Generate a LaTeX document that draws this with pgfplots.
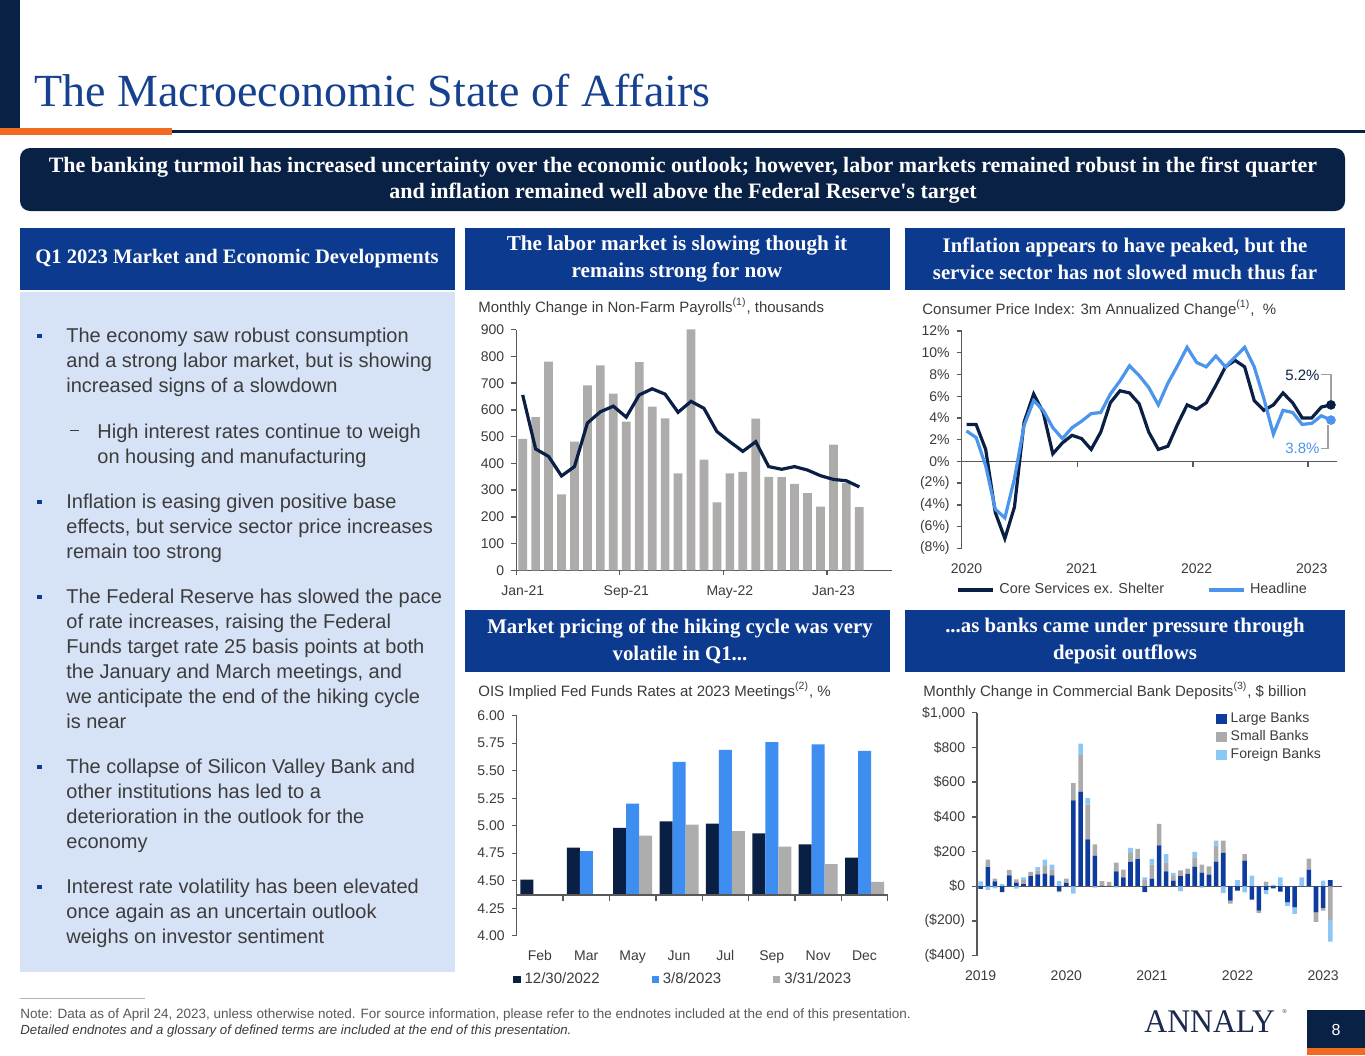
\documentclass[border=0pt]{standalone}
\usepackage{pgfplots}
\pgfplotsset{compat=1.18}
\usepackage{pgfplotstable}
\usepackage{fontspec}
\usepackage{graphicx}
\setmainfont{Liberation Sans}
\newfontfamily\serif{Liberation Serif}
\newcommand{\fsz}[2]{\fontsize{#1pt}{#2pt}\selectfont}
\definecolor{navy}{HTML}{0A2146}
\definecolor{hblue}{HTML}{0C3A8E}
\definecolor{panel}{HTML}{D6E3F6}
\definecolor{orng}{HTML}{F26A21}
\definecolor{titleblue}{HTML}{15418F}
\definecolor{txt}{HTML}{3C3C3C}
\definecolor{axgray}{HTML}{595959}
\definecolor{linenavy}{HTML}{0A1F44}
\definecolor{paygray}{HTML}{AEABAB}
\definecolor{cpiblue}{HTML}{4C95EC}
\definecolor{oisblue}{HTML}{3D8EF0}
\definecolor{oisgray}{HTML}{ADADAD}
\definecolor{depL}{HTML}{0E3C9E}
\definecolor{depS}{HTML}{ABABAB}
\definecolor{depF}{HTML}{8CC8F5}
\definecolor{leader}{HTML}{A0A0A0}
\definecolor{logo}{HTML}{1B2A4E}

% Non-farm payrolls: monthly change and line
\pgfplotstableread{
i bar line
0 492 656
1 573 454
2 781 426
3 284 353
4 481 388
5 692 551
6 767 593
7 661 614
8 556 573
9 779 656
10 612 679
11 568 659
12 363 591
13 901 632
14 414 606
15 254 519
16 363 481
17 368 445
18 567 481
19 350 388
20 349 378
21 323 388
22 289 375
23 238 354
24 470 340
25 326 335
26 236 312
}\payrolls

% CPI 3m annualized
\pgfplotstableread{
i core head
0 3.4 2.8
1 3.4 2.2
2 1.1 -0.4
3 -4.7 -4.4
4 -7.1 -5.2
5 -4.2 -1.6
6 3.6 3.3
7 6.2 5.6
8 4.5 4.7
9 0.7 3.1
10 1.7 2.1
11 2.4 3.1
12 2.1 3.7
13 1.1 4.4
14 2.7 4.5
15 5.4 6.2
16 6.5 7.4
17 6.3 8.8
18 5.3 7.9
19 2.7 6.8
20 1.1 5.2
21 1.4 7.2
22 3.4 8.8
23 5.2 10.5
24 4.8 9.1
25 5.4 8.7
26 7.0 9.7
27 8.7 8.7
28 9.3 9.6
29 8.7 10.5
30 5.6 8.7
31 4.7 5.8
32 5.2 2.5
33 6.3 4.7
34 5.4 4.5
35 4.0 3.4
36 4.0 3.5
37 5.0 4.2
38 5.2 3.8
}\cpi

% Deposits: positive and negative parts of each group
\pgfplotstableread{
Lp Sp Fp Ln Sn Fn
0 0 28 -15 0 0
110 44 0 0 0 -20
29 15 0 0 0 -12
0 0 12 -33 0 0
63 31 0 0 0 0
21 19 0 0 0 -14
13 23 16 0 0 0
58 25 0 0 0 0
69 23 19 0 0 0
73 44 36 0 0 0
63 35 27 0 0 0
0 0 30 -28 -6 0
19 25 0 0 0 0
495 100 0 0 0 -42
545 210 67 0 0 0
270 200 38 0 0 0
177 65 0 0 0 -8
2 28 0 0 0 0
3 22 0 0 0 0
86 50 0 0 0 -6
52 44 0 0 0 0
140 52 29 0 0 0
157 58 0 0 0 0
0 40 12 -33 0 0
44 81 33 0 0 0
236 123 0 0 0 0
86 52 48 0 0 0
33 25 19 0 0 0
58 33 0 0 0 -28
71 31 0 0 0 0
113 54 31 0 0 0
79 46 0 0 0 -8
67 48 0 0 0 0
142 92 29 0 0 0
192 71 0 0 0 -38
0 0 0 -83 -17 0
0 0 35 -25 0 0
148 38 0 0 0 -35
0 0 61 -77 0 0
0 0 0 -140 -14 0
0 27 0 -20 0 -25
0 0 8 -12 0 0
0 0 52 -31 0 0
0 0 0 -92 0 -23
0 0 0 -121 0 -38
0 0 52 0 0 0
96 63 0 0 0 0
0 0 0 -150 -55 0
0 0 33 -125 -15 0
35 0 0 0 -198 -121
}\dep

\pgfplotsset{
  slide/.style={
    scale only axis,
    axis line style={-, draw=axgray, line width=0.7pt},
    tick style={draw=axgray, line width=0.7pt},
    tick align=outside,
    major tick length=2.5pt,
    ticklabel style={font=\fsz{7}{8}, text=txt},
    /pgf/number format/assume math mode=true,
    clip mode=individual,
  }
}

\newcommand{\tl}[3]{\node[anchor=base west, inner sep=0pt, text=txt, font=\fsz{10}{12}] at (#1,#2) {#3};}
\newcommand{\bul}[2]{\fill[hblue] (#1-2.8,#2-2.2) rectangle (#1+2.8,#2+2.2);}

\begin{document}
\begin{tikzpicture}
\begin{scope}[x=0.5pt,y=-0.5pt]
\path[use as bounding box, fill=white] (0,0) rectangle (1365,1055);
% top decoration
\fill[navy] (0,0) rectangle (20,130);
\fill[navy] (172,129.5) rectangle (1365,132.5);
\fill[orng] (0,128) rectangle (172,135);
\node[anchor=base west, inner sep=0pt, text=titleblue, font=\serif\fsz{23}{26}] at (34,106) {The Macroeconomic State of Affairs};
% banner
\fill[navy, rounded corners=5pt] (20,148) rectangle (1345,211);
\node[align=center, text=white, font=\serif\bfseries\fsz{11}{13}, inner sep=0pt] at (683,180) {The banking turmoil has increased uncertainty over the economic outlook; however, labor markets remained robust in the first quarter\\and inflation remained well above the Federal Reserve's target};
% header boxes
\fill[hblue] (20,228) rectangle (455,290);
\fill[hblue] (465,228) rectangle (890,290);
\fill[hblue] (905,228) rectangle (1345,290);
\fill[hblue] (465,610) rectangle (890,672);
\fill[hblue] (905,610) rectangle (1345,672);
\node[text=white, font=\serif\bfseries\fsz{10.3}{13}, inner sep=0pt] at (237,259) {Q1 2023 Market and Economic Developments};
\node[align=center, text=white, font=\serif\bfseries\fsz{10.6}{13.5}, inner sep=0pt] at (677,259) {The labor market is slowing though it\\remains strong for now};
\node[align=center, text=white, font=\serif\bfseries\fsz{10.4}{13.5}, inner sep=0pt] at (1125,259) {Inflation appears to have peaked, but the\\service sector has not slowed much thus far};
\node[align=center, text=white, font=\serif\bfseries\fsz{10.4}{13.5}, inner sep=0pt] at (680,641) {Market pricing of the hiking cycle was very\\volatile in Q1...};
\node[align=center, text=white, font=\serif\bfseries\fsz{10.4}{13.5}, inner sep=0pt] at (1125,641) {...as banks came under pressure through\\deposit outflows};
% left panel
\fill[panel] (20,292) rectangle (455,972);
\bul{39.5}{336}
\tl{66}{342}{The economy saw robust consumption}
\tl{66}{367}{and a strong labor market, but is showing}
\tl{66}{392}{increased signs of a slowdown}
\fill[txt] (70,430) rectangle (79,431.2);
\tl{97}{438}{High interest rates continue to weigh}
\tl{97}{463}{on housing and manufacturing}
\bul{39.5}{502}
\tl{66}{508}{Inflation is easing given positive base}
\tl{66}{533}{effects, but service sector price increases}
\tl{66}{558}{remain too strong}
\bul{39.5}{597}
\tl{66}{603}{The Federal Reserve has slowed the pace}
\tl{66}{628}{of rate increases, raising the Federal}
\tl{66}{653}{Funds target rate 25 basis points at both}
\tl{66}{678}{the January and March meetings, and}
\tl{66}{703}{we anticipate the end of the hiking cycle}
\tl{66}{728}{is near}
\bul{39.5}{767}
\tl{66}{773}{The collapse of Silicon Valley Bank and}
\tl{66}{798}{other institutions has led to a}
\tl{66}{823}{deterioration in the outlook for the}
\tl{66}{848}{economy}
\bul{39.5}{887}
\tl{66}{893}{Interest rate volatility has been elevated}
\tl{66}{918}{once again as an uncertain outlook}
\tl{66}{943}{weighs on investor sentiment}
% chart titles
\node[anchor=base west, inner sep=0pt, text=txt, font=\fsz{7.5}{9}] at (478,312) {Monthly Change in Non-Farm Payrolls\textsuperscript{(1)}, thousands};
\node[anchor=base west, inner sep=0pt, text=txt, font=\fsz{7.5}{9}] at (922,314) {Consumer Price Index: 3m Annualized Change\textsuperscript{(1)},\ \ \%};
\node[anchor=base west, inner sep=0pt, text=txt, font=\fsz{7.5}{9}] at (478,696) {OIS Implied Fed Funds Rates at 2023 Meetings\textsuperscript{(2)}, \%};
\node[anchor=base west, inner sep=0pt, text=txt, font=\fsz{7.5}{9}] at (923,696) {Monthly Change in Commercial Bank Deposits\textsuperscript{(3)}, \$ billion};
% footer
\draw[gray!60, line width=0.5pt] (20,998) -- (145,998);
\node[anchor=base west, inner sep=0pt, text=txt!85, font=\fsz{6.75}{7}] at (20,1018) {Note: Data as of April 24, 2023, unless otherwise noted. For source information, please refer to the endnotes included at the end of this presentation.};
\node[anchor=base west, inner sep=0pt, text=txt, font=\itshape\fsz{6.6}{7}] at (20,1034) {Detailed endnotes and a glossary of defined terms are included at the end of this presentation.};
\node[anchor=base west, inner sep=0pt, text=logo, font=\serif\fsz{16.5}{18}] at (1144,1032) {\scalebox{0.96}[1]{ANNALY}};
\node[anchor=base west, inner sep=0pt, text=logo, font=\serif\fsz{3}{3}] at (1282,1013) {\textregistered};
\fill[navy] (1307,1010) rectangle (1365,1048);
\fill[orng] (1307,1048) rectangle (1365,1055);
\node[text=white, font=\fsz{8}{9}] at (1336,1030) {8};
% axis anchors
\coordinate (a1) at (516.2,570.3);
\coordinate (a2) at (961.7,548.3);
\coordinate (a3) at (516.7,935.7);
\coordinate (a4) at (977.1,955.7);
\end{scope}

% ---------- Chart 1: payrolls
\begin{axis}[slide, at={(a1)}, anchor=south west,
  width=187.75pt, height=120.3pt,
  xmin=-0.5, xmax=28.5, ymin=0, ymax=900,
  axis x line*=bottom, axis y line*=left,
  ytick={0,100,...,900},
  xtick={-0.5,7.5,15.5,23.5}, xticklabels={},
  extra x ticks={0,8,16,24}, extra x tick labels={Jan-21,Sep-21,May-22,Jan-23},
  extra x tick style={major tick length=0pt, xticklabel style={yshift=-4pt}},
]
\addplot[ybar, bar width=4.35pt, bar shift=0pt, fill=paygray, draw=none] table[x=i,y=bar] {\payrolls};
\addplot[linenavy, line width=1.6pt, mark=none] table[x=i,y=line] {\payrolls};
\end{axis}

% ---------- Chart 2: CPI
\begin{axis}[slide, at={(a2)}, anchor=south west,
  width=187.5pt, height=108.65pt,
  xmin=-0.5, xmax=38.6, ymin=-8, ymax=12,
  axis x line*=bottom, axis y line*=left, x axis line style={draw=none},
  xtick style={draw=none},
  ytick={-8,-6,...,12},
  yticklabels={(8\%),(6\%),(4\%),(2\%),0\%,2\%,4\%,6\%,8\%,10\%,12\%},
  xtick={0,12,24,36}, xticklabels={2020,2021,2022,2023},
  xticklabel style={yshift=-1.5pt},
  legend columns=2,
  legend style={at={(axis description cs:-0.015,-0.19)}, anchor=west, draw=none, fill=none,
     font=\fsz{7.2}{8}, text=txt, inner sep=0pt,
     /tikz/every even column/.append style={column sep=19.5pt}},
  legend image code/.code={\draw[#1, line width=2pt] (0pt,0pt) -- (17.5pt,0pt);},
]
\draw[axgray, line width=0.7pt] (axis cs:-0.5,0) -- (axis cs:38.6,0);
\pgfplotsinvokeforeach{11.6,23.6,35.6}{\draw[axgray, line width=0.7pt] (axis cs:#1,0) -- ++(0pt,-3pt);}
\addplot[linenavy, line width=1.6pt, mark=none] table[x=i,y=core] {\cpi};
\addlegendentry{Core Services ex. Shelter}
\addplot[cpiblue, line width=1.6pt, mark=none] table[x=i,y=head] {\cpi};
\addlegendentry{Headline}
\addplot[only marks, mark=*, mark size=2.2pt, linenavy, forget plot] coordinates {(38,5.2)};
\addplot[only marks, mark=*, mark size=2.2pt, cpiblue, forget plot] coordinates {(38,3.8)};
\draw[leader, line width=0.6pt] ([yshift=2.5pt]axis cs:38,5.2) -- ([yshift=15pt]axis cs:38,5.2) -- ([xshift=-5pt,yshift=15pt]axis cs:38,5.2);
\node[anchor=east, inner sep=0.5pt, text=linenavy, font=\fsz{7.5}{9}] at ([xshift=-5pt,yshift=15pt]axis cs:38,5.2) {5.2\%};
\draw[leader, line width=0.6pt] ([xshift=-1.5pt,yshift=-2.5pt]axis cs:38,3.8) -- ([xshift=-1.5pt,yshift=-14pt]axis cs:38,3.8) -- ([xshift=-5pt,yshift=-14pt]axis cs:38,3.8);
\node[anchor=east, inner sep=0.5pt, text=cpiblue, font=\fsz{7.5}{9}] at ([xshift=-5pt,yshift=-14pt]axis cs:38,3.8) {3.8\%};
\end{axis}

% ---------- Chart 3: OIS
\begin{axis}[slide, at={(a3)}, anchor=south west,
  width=185.5pt, height=110pt,
  ybar=0pt, bar width=6.5pt,
  xmin=-0.5, xmax=7.5, ymin=4, ymax=6,
  axis x line*=bottom, axis y line*=left, x axis line style={draw=none},
  xtick style={draw=none},
  xtick={0,...,7}, xticklabels={Feb,Mar,May,Jun,Jul,Sep,Nov,Dec},
  xticklabel style={yshift=-1.5pt},
  ytick={4,4.25,4.5,4.75,5,5.25,5.5,5.75,6},
  yticklabel style={/pgf/number format/.cd, fixed, fixed zerofill, precision=2},
  legend columns=3,
  legend style={at={(axis description cs:-0.01,-0.2)}, anchor=west, draw=none, fill=none,
     font=\fsz{7.5}{8}, text=txt, inner sep=0pt,
     /tikz/every even column/.append style={column sep=24pt}},
  legend image code/.code={\fill[#1] (0pt,-1.8pt) rectangle (3.6pt,1.8pt);},
]
\addplot[fill=linenavy, draw=none] coordinates {(0,4.51) (1,4.80) (2,4.98) (3,5.04) (4,5.02) (5,4.93) (6,4.83) (7,4.71)};
\addlegendentry{12/30/2022}
\addplot[fill=oisblue, draw=none] coordinates {(1,4.77) (2,5.20) (3,5.58) (4,5.69) (5,5.76) (6,5.74) (7,5.68)};
\addlegendentry{3/8/2023}
\addplot[fill=oisgray, draw=none] coordinates {(2,4.91) (3,5.01) (4,4.95) (5,4.81) (6,4.65) (7,4.49)};
\addlegendentry{3/31/2023}
\fill[white] (axis cs:-0.48,4.001) rectangle (axis cs:7.5,4.37);
\draw[axgray, line width=0.7pt] (axis cs:-0.5,4.37) -- (axis cs:7.5,4.37);
\pgfplotsinvokeforeach{0.5,1.5,2.5,3.5,4.5,5.5,6.5,7.5}{\draw[axgray, line width=0.7pt] (axis cs:#1,4.37) -- ++(0pt,-3pt);}
\end{axis}

% ---------- Chart 4: deposits (positive parts)
\begin{axis}[slide, at={(a4)}, anchor=south west,
  width=182.3pt, height=121.5pt,
  ybar stacked, bar width=2.3pt,
  xmin=-0.5, xmax=50.6, ymin=-400, ymax=1000,
  axis x line*=bottom, axis y line*=left, x axis line style={draw=none},
  xtick style={draw=none},
  xtick={0,12,24,36,48}, xticklabels={2019,2020,2021,2022,2023},
  xticklabel style={yshift=-1.5pt},
  ytick={-400,-200,0,200,400,600,800,1000},
  yticklabels={{(\$400)},{(\$200)},{\$0},{\$200},{\$400},{\$600},{\$800},{\$1,000}},
  legend style={at={(axis description cs:0.655,1.02)}, anchor=north west, draw=none, fill=none,
     font=\fsz{7}{8}, text=txt, inner sep=0pt, row sep=-1.5pt, cells={anchor=west}},
  legend image code/.code={\fill[#1] (0pt,-2.6pt) rectangle (5.2pt,2.6pt);},
]
\draw[axgray, line width=0.7pt] (axis cs:-0.5,0) -- (axis cs:50.6,0);
\addplot[fill=depL, draw=none] table[x expr=\coordindex, y=Lp] {\dep};
\addlegendentry{Large Banks}
\addplot[fill=depS, draw=none] table[x expr=\coordindex, y=Sp] {\dep};
\addlegendentry{Small Banks}
\addplot[fill=depF, draw=none] table[x expr=\coordindex, y=Fp] {\dep};
\addlegendentry{Foreign Banks}
\end{axis}
% ---------- Chart 4: deposits (negative parts)
\begin{axis}[scale only axis, at={(a4)}, anchor=south west,
  width=182.3pt, height=121.5pt,
  ybar stacked, bar width=2.3pt,
  xmin=-0.5, xmax=50.6, ymin=-400, ymax=1000,
  hide axis,
]
\addplot[fill=depL, draw=none] table[x expr=\coordindex, y=Ln] {\dep};
\addplot[fill=depS, draw=none] table[x expr=\coordindex, y=Sn] {\dep};
\addplot[fill=depF, draw=none] table[x expr=\coordindex, y=Fn] {\dep};
\end{axis}
\end{tikzpicture}
\end{document}
